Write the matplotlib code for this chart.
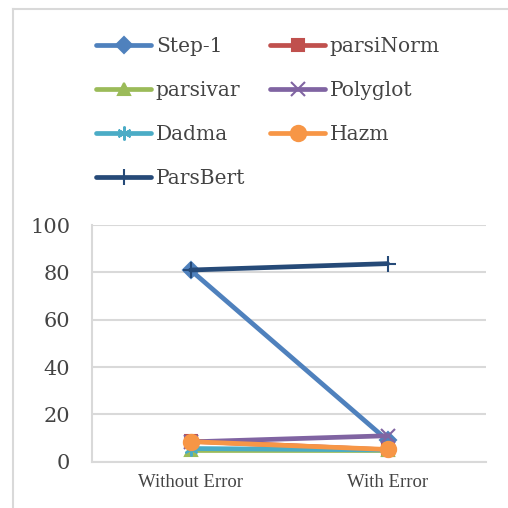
import matplotlib.pyplot as plt
from matplotlib.lines import Line2D

categories = ["Without Error", "With Error"]
series_names = ["Step-1", "parsiNorm", "parsivar", "Polyglot", "Dadma", "Hazm", "ParsBert"]
step1 = [81, 9]
parsinorm = [8.7, 5]
parsivar = [5, 5]
polyglot = [8.4, 11]
dadma = [5.6, 5]
hazm = [8.5, 5.2]
parsbert = [81, 83.7]
y_ticks = [0, 20, 40, 60, 80, 100]

series = [step1, parsinorm, parsivar, polyglot, dadma, hazm, parsbert]
colors = ["#4F81BD", "#C0504D", "#9BBB59", "#8064A2", "#4BACC6", "#F79646", "#264A78"]
markers = ["D", "s", "^", "x", (6, 2, 0), "o", "+"]
msizes = [8, 8, 9, 10, 10, 11, 12]

fig = plt.figure(figsize=(5.08, 5.08), dpi=100)
ax = fig.add_axes([0.181, 0.091, 0.776, 0.466])

x = range(len(categories))
handles = []
for name, vals, c, m, ms in zip(series_names, series, colors, markers, msizes):
    h, = ax.plot(x, vals, color=c, lw=3.4, marker=m, markersize=ms,
                 markeredgewidth=1.5, label=name, solid_capstyle="round")
    handles.append(h)

ax.set_xlim(-0.5, 1.5)
ax.set_ylim(0, 100)
ax.set_yticks(y_ticks)
ax.set_xticks(list(x))
ax.set_xticklabels(categories, family="Liberation Serif", fontsize=13.5, color="#444444")
for lab in ax.get_yticklabels():
    lab.set_family("DejaVu Serif")
    lab.set_fontsize(15)
    lab.set_color("#444444")
ax.tick_params(axis="x", length=0, pad=9)
ax.tick_params(axis="y", length=0, pad=15.5)
ax.grid(axis="y", color="#D9D9D9", lw=1.5)
ax.set_axisbelow(True)
for side in ["top", "right"]:
    ax.spines[side].set_visible(False)
ax.spines["left"].set_color("#D9D9D9")
ax.spines["bottom"].set_color("#D9D9D9")
ax.spines["left"].set_linewidth(1.5)
ax.spines["bottom"].set_linewidth(1.5)

# legend: column-major order to match row layout of the reference
order = [0, 2, 4, 6, 1, 3, 5]
fig.legend([handles[i] for i in order], [series_names[i] for i in order],
           ncol=2, loc="upper left", bbox_to_anchor=(0.154, 0.963),
           frameon=False, prop={"family": "DejaVu Serif", "size": 14.5},
           handlelength=2.7, columnspacing=1.25, labelspacing=1.25,
           handletextpad=0.25, labelcolor="#444444")

# chart area border (left and top visible)
fig.add_artist(Line2D([13 / 508, 13 / 508], [0, 1 - 9 / 508],
                      transform=fig.transFigure, color="#D9D9D9", lw=1.5))
fig.add_artist(Line2D([13 / 508, 1], [1 - 9 / 508, 1 - 9 / 508],
                      transform=fig.transFigure, color="#D9D9D9", lw=1.5))

fig.savefig("out.png", dpi=100)
